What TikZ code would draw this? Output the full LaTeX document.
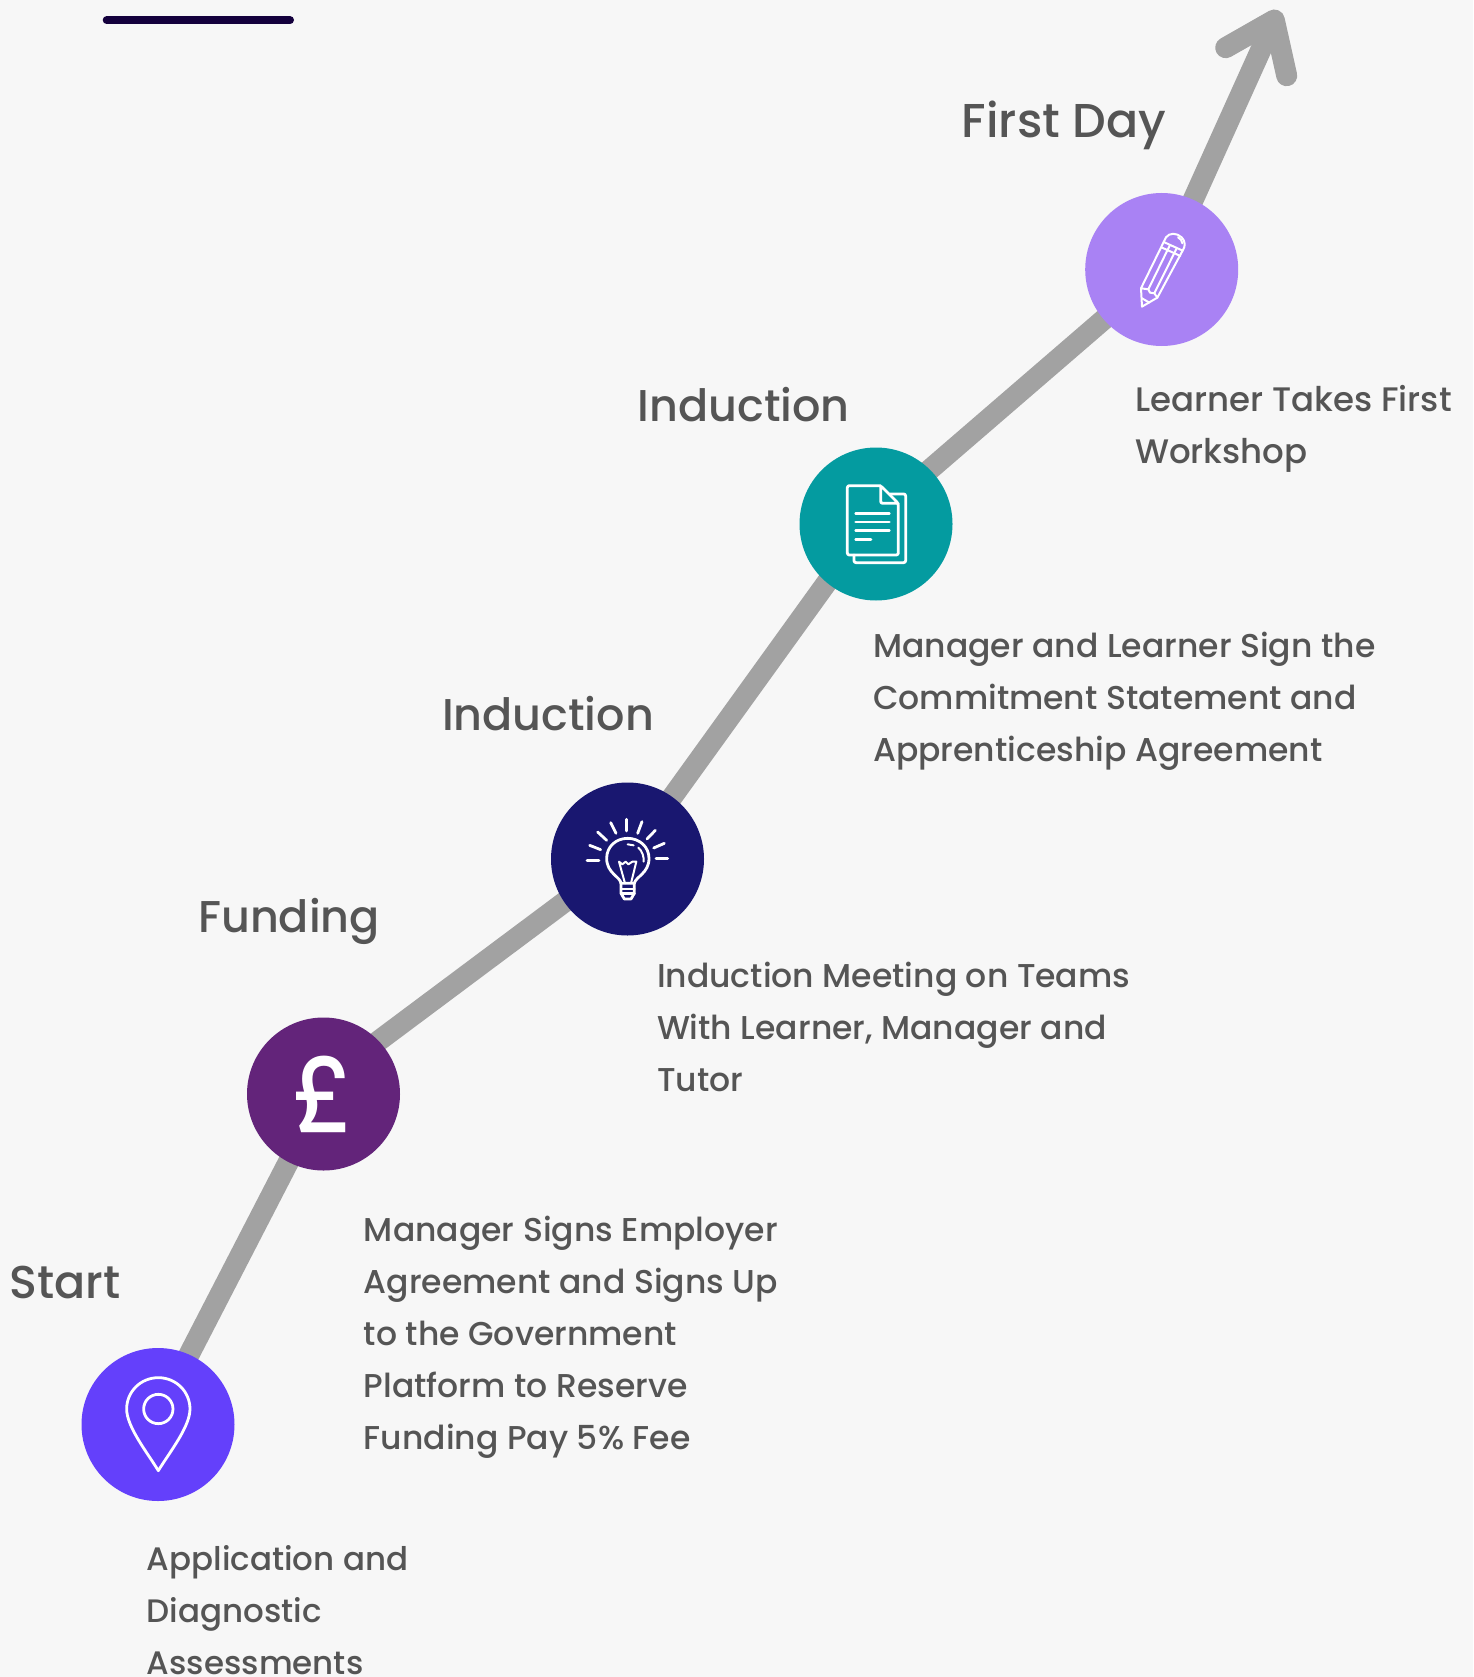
\documentclass[tikz,border=0pt]{standalone}
\usepackage{graphicx}
\usepackage{fontspec}
\setmainfont{Poppins Medium}
\newfontfamily\poundfont{Poppins Medium}
\newfontfamily\titlefont{Poppins Medium}
\definecolor{pagebg}{HTML}{F7F7F7}
\definecolor{linegrey}{HTML}{A2A2A2}
\definecolor{inkgrey}{HTML}{555555}
\definecolor{barink}{HTML}{14003D}
\definecolor{pincol}{HTML}{6440FB}
\definecolor{poundcol}{HTML}{63247A}
\definecolor{bulbcol}{HTML}{191770}
\definecolor{doccol}{HTML}{049BA0}
\definecolor{pencilcol}{HTML}{A982F4}
\pgfdeclarelayer{under}
\pgfsetlayers{under,main}
\tikzset{
  stopc/.style={circle,minimum size=153pt,inner sep=0pt,draw=none},
  road/.style={draw=linegrey,line width=21pt},
  roadhead/.style={road,line cap=round,line join=round},
  stepname/.style={anchor=base west,inner sep=0pt,text=inkgrey,font=\titlefont\fontsize{#1}{52}\selectfont},
  stepname/.default=44.5,
  stepnote/.style={anchor=base west,inner sep=0pt,text=inkgrey,align=left,font=\fontsize{#1}{52}\selectfont},
  stepnote/.default=33,
  icon/.style={draw=white,line width=2.8pt,line cap=round,line join=round},
  fineicon/.style={icon,line width=2pt},
}
\begin{document}
\begin{tikzpicture}[x=1pt,y=-1pt]
\useasboundingbox (0,0) rectangle (1473,1677);
% stops
\node[stopc,fill=pincol] (pin) at (158,1424.5) {};
\node[stopc,fill=poundcol,text=white,font=\poundfont\fontsize{106}{106}\selectfont] (pound) at (323.5,1094) {\scalebox{0.9}[1]{£}};
\node[stopc,fill=bulbcol] (bulb) at (627.5,859) {};
\node[stopc,fill=doccol] (doc) at (876,524) {};
\node[stopc,fill=pencilcol] (pencil) at (1161.7,269.5) {};
\coordinate (tip) at (1274.3,20);
\coordinate (armL) at (1225.7,47.7);
\coordinate (armR) at (1286.7,75.7);
\coordinate (barL) at (106.7,20.2);
\coordinate (barR) at (290,20.2);
\begin{pgfonlayer}{under}
\fill[pagebg] (0,0) rectangle (1473,1677);
\draw[road] ([xshift=-5pt]pin.center) -- (pound.center);
\draw[road] ([yshift=12pt]pound.center) -- ([yshift=4pt]bulb.center);
\draw[road] (bulb.center) -- ([xshift=-7pt]doc.center);
\draw[road] ([yshift=8pt]doc.center) -- (pencil.center);
\draw[road] (pencil.center) -- (tip);
\draw[roadhead] (armL) -- (tip) -- (armR);
\end{pgfonlayer}
\draw[barink,line width=8pt,line cap=round] (barL) -- (barR);
% headings
\node[stepname=46] (t1) at (9.6,1298.5) {Start};
\node[stepname] (t2) at (198,932) {Funding};
\node[stepname] (t3) at (441.8,730) {Induction};
\node[stepname] (t4) at (637.5,421) {Induction};
\node[stepname=47.5] (t5) at (961.7,137.3) {First Day};
% notes
\node[stepnote=32.5] (n1) at (146.7,1674) {Application and\\Diagnostic\\Assessments};
\node[stepnote] (n2) at (363.7,1449.5) {Manager Signs Employer\\Agreement and Signs Up\\to the Government\\Platform to Reserve\\Funding Pay 5\% Fee};
\node[stepnote] (n3) at (656.8,1091) {Induction Meeting on Teams\\With Learner, Manager and\\Tutor};
\node[stepnote] (n4) at (873,761.5) {Manager and Learner Sign the\\Commitment Statement and\\Apprenticeship Agreement};
\node[stepnote=34] (n5) at (1135,463.5) {Learner Takes First\\Workshop};
% pin icon
\begin{scope}[shift={(75,1340)},x=0.3333pt,y=-0.3333pt]
\draw[icon] (250,392) .. controls (215,335) and (155,260) .. (155,207) .. controls (155,155) and (197,113) .. (250,113) .. controls (303,113) and (345,155) .. (345,207) .. controls (345,260) and (285,335) .. (250,392) -- cycle;
\draw[icon] (250,207) circle[radius=44];
\end{scope}
% document icon
\begin{scope}[shift={(790,440)},x=0.3333pt,y=-0.3333pt]
\draw[icon,rounded corners=2pt] (272,137) -- (172,137) -- (172,345) -- (325,345) -- (325,190) -- (272,137) -- (272,190) -- (325,190);
\draw[icon,rounded corners=2pt] (300,162) -- (347,162) -- (347,368) -- (192,368) -- (192,345);
\draw[icon] (197,220) -- (298,220);
\draw[icon] (197,246) -- (298,246);
\draw[icon] (197,272) -- (298,272);
\draw[icon] (197,298) -- (243,298);
\end{scope}
% bulb icon
\begin{scope}[shift={(545,775)},x=0.3333pt,y=-0.3333pt]
\draw[icon] (126,257) -- (162,257);
\draw[icon] (134,211) -- (167,224);
\draw[icon] (158,171) -- (185,196);
\draw[icon] (197,143) -- (213,175);
\draw[icon] (244,133) -- (244,168);
\draw[icon] (291,140) -- (278,175);
\draw[icon] (331,166) -- (306,192);
\draw[icon] (358,205) -- (326,219);
\draw[icon] (333,251) -- (368,251);
\draw[icon] (228,325) .. controls (226,305) and (185,295) .. (185,250) .. controls (185,215) and (213,190) .. (248,190) .. controls (283,190) and (312,215) .. (312,250) .. controls (312,295) and (272,305) .. (268,325) -- cycle;
\draw[icon] (228,325) -- (228,355) -- (238,372) -- (258,372) -- (268,355) -- (268,325);
\draw[icon] (232,342) -- (268,342);
\draw[icon] (232,356) -- (268,356);
\draw[fineicon] (240,325) -- (222,260) -- (232,268) -- (242,260) -- (250,268) -- (262,260) -- (274,260) -- (258,325);
\draw[fineicon] (248,208) -- (266,211);
\draw[fineicon] (280,218) .. controls (292,228) and (297,245) .. (296,260);
\end{scope}
% pencil icon
\begin{scope}[shift={(1060,0)},x=0.3333pt,y=-0.3333pt]
\draw[fineicon] (246,920) -- (243,865) -- (318,712) .. controls (328,698) and (350,698) .. (365,712) .. controls (376,722) and (376,740) .. (370,748) -- (292,893) -- cycle;
\draw[fineicon] (311,726) -- (368,752);
\draw[fineicon] (304,742) -- (361,768);
\draw[fineicon] (330,735) -- (265,868);
\draw[fineicon] (350,745) -- (283,880);
\draw[fineicon] (243,865) -- (265,868) -- (270,878) -- (283,880) -- (292,893);
\draw[fineicon] (246,895) -- (268,908);
\draw[fineicon] (354,712) .. controls (362,716) and (366,722) .. (367,730);
\end{scope}
\end{tikzpicture}
\end{document}
